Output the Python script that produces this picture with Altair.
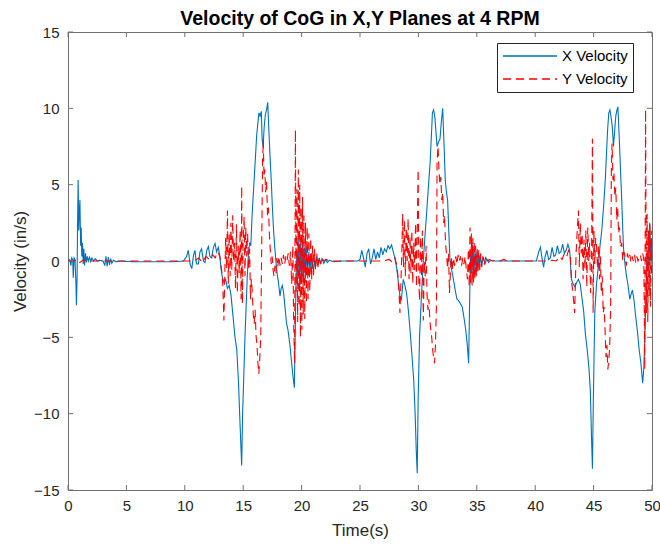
import altair as alt
import pandas as pd

# ---------------- data ----------------
# X Velocity, segment 1 (0-9 s)
xt1 = [0.00,0.15,0.25,0.32,0.40,0.45,0.52,0.60,0.68,0.72,0.78,0.82,0.87,0.92,0.97,1.02,1.08,1.13,1.18,1.24,
       1.30,1.36,1.42,1.50,1.58,1.66,1.75,1.85,1.95,2.05,2.20,2.35,2.50,2.70,3.00,3.15,3.25,3.35,3.45,3.55,
       3.65,3.75,3.90,4.10,4.50,5.00,6.00,7.00,8.00,9.00]
xv1 = [0.0,0.1,-0.3,0.2,0.1,-1.1,0.2,0.1,-1.5,-2.9,-1.0,2.5,5.3,2.0,3.2,4.0,1.0,2.2,0.3,1.2,
       -0.2,0.8,-0.3,0.5,-0.1,0.3,0.0,0.25,-0.05,0.2,0.0,0.15,0.0,0.05,0.0,-0.3,0.3,-0.35,0.25,-0.25,
       0.15,-0.15,0.05,-0.05,0.0,-0.03,-0.05,-0.05,-0.05,-0.05]
# X Velocity, segment 2 (10-24.5 s)
xt2 = [9.9,10.15,10.3,10.45,10.6,10.75,10.87,11.0,11.16,11.3,
       11.44,11.6,11.73,11.88,12.02,12.15,12.3,12.45,12.59,12.72,
       12.87,13.0,13.1,13.2,13.35,13.5,13.65,13.8,13.95,14.1,
       14.3,14.45,14.6,14.72,14.87,14.95,15.05,15.15,15.25,15.35,
       15.45,15.55,15.65,15.75,15.85,15.95,16.05,16.15,16.25,16.35,
       16.45,16.55,16.62,16.7,16.8,16.9,17.0,17.1,17.2,17.3,
       17.4,17.5,17.6,17.7,17.8,17.9,18.0,18.15,18.25,18.35,
       18.45,18.55,18.7,18.85,19.0,19.15,19.3,19.38,19.45,19.52,
       19.6,19.68,19.76,19.84,19.92,20.0,20.08,20.16,20.25,20.34,
       20.43,20.52,20.62,20.72,20.82,20.92,21.03,21.14,21.26,21.38,
       21.5,21.62,21.75,21.9,22.05,22.2,22.4,22.7,23.5,24.5]
xv2 = [0.0,0.3,0.7,-0.2,-0.5,0.4,0.7,-0.2,-0.2,0.6,
       0.8,0.0,-0.1,0.7,0.95,0.3,0.2,0.9,1.15,0.6,
       0.9,0.3,-0.5,-1.0,-1.4,-1.2,-1.8,-1.6,-2.2,-3.4,
       -5.0,-5.8,-8.0,-10.5,-13.4,-10.0,-7.5,-5.0,-3.0,-1.0,
       0.5,1.2,1.0,2.8,4.2,5.5,6.8,8.2,9.0,9.7,
       9.5,9.8,8.0,7.5,8.8,9.6,9.9,10.4,8.5,6.8,
       5.3,3.5,2.0,0.9,0.0,-0.8,-1.3,-2.3,-1.8,-1.6,
       -2.0,-2.8,-4.0,-4.6,-5.5,-6.7,-7.8,-8.3,-5.0,-1.5,
       0.8,-1.2,1.6,-1.8,1.2,-1.5,1.4,-1.3,0.9,-1.1,
       0.8,-0.9,0.6,-0.7,0.5,-0.5,0.4,-0.4,0.3,-0.3,
       0.2,-0.2,0.15,-0.15,0.1,-0.1,0.05,-0.05,0.0,0.0]
# X Velocity, segment 3 (25-39.5 s)
xt3 = [24.8,25.0,25.15,25.3,25.45,25.6,25.75,25.9,26.05,26.2,
       26.35,26.5,26.65,26.8,26.95,27.1,27.25,27.4,27.55,27.7,
       27.85,28.0,28.15,28.3,28.42,28.55,28.7,28.85,29.0,29.15,
       29.3,29.45,29.6,29.72,29.82,29.9,29.98,30.1,30.25,30.4,
       30.55,30.7,30.85,31.0,31.1,31.2,31.3,31.4,31.5,31.6,
       31.72,31.85,31.95,32.08,32.2,32.3,32.4,32.5,32.6,32.7,
       32.85,33.0,33.15,33.3,33.45,33.6,33.75,33.9,34.05,34.2,
       34.3,34.38,34.45,34.52,34.6,34.68,34.76,34.84,34.92,35.0,
       35.1,35.2,35.3,35.42,35.55,35.7,35.85,36.0,36.2,36.5,
       37.5,38.5,39.5]
xv3 = [0.0,0.1,0.7,0.2,-0.4,0.5,0.8,-0.2,0.2,0.8,
       0.1,0.6,0.2,0.9,0.4,0.8,0.6,1.0,0.8,1.05,
       0.6,0.1,-0.5,-1.5,-2.3,-2.5,-1.2,-1.6,-2.2,-3.3,
       -4.7,-6.2,-7.8,-10.0,-12.5,-13.9,-9.0,-4.9,-2.5,-0.2,
       1.5,3.1,4.8,6.4,8.0,9.7,9.9,9.5,8.5,7.5,
       7.8,8.0,9.0,10.0,7.5,5.3,4.5,4.0,2.0,0.1,
       -0.6,-1.2,-1.9,-2.5,-2.6,-2.8,-3.0,-3.7,-4.5,-5.6,
       -6.7,-3.0,0.5,-0.8,1.2,-1.0,0.9,-0.9,0.7,-0.7,
       0.5,-0.5,0.4,-0.35,0.25,-0.2,0.15,-0.1,0.05,0.0,
       0.0,0.0,0.0]
# X Velocity, segment 4 (40-50 s)
xt4 = [39.9,40.1,40.3,40.45,40.6,40.72,40.85,41.0,41.15,41.3,
       41.45,41.6,41.75,41.9,42.05,42.2,42.35,42.5,42.65,42.8,
       42.95,43.1,43.25,43.4,43.55,43.7,43.85,44.0,44.15,44.3,
       44.45,44.6,44.72,44.82,44.9,44.98,45.1,45.25,45.4,45.55,
       45.7,45.85,46.0,46.1,46.2,46.3,46.4,46.5,46.6,46.7,
       46.8,46.9,47.0,47.08,47.2,47.3,47.4,47.5,47.58,47.7,
       47.8,47.95,48.1,48.2,48.32,48.45,48.6,48.75,48.9,49.05,
       49.2,49.3,49.4,49.5,49.6,49.7,49.8,49.88,49.95,50.0]
xv4 = [0.0,0.0,0.6,0.9,0.1,-0.4,0.3,0.7,0.1,0.2,
       0.9,0.3,0.4,1.0,0.5,0.6,1.1,0.5,0.7,1.1,
       0.7,-1.2,-1.5,-1.7,-1.4,-1.2,-1.5,-2.4,-3.3,-4.8,
       -5.8,-7.0,-8.5,-11.5,-13.6,-9.0,-3.4,-1.5,-0.4,1.0,
       2.0,3.5,5.3,7.0,8.6,9.7,9.9,9.4,8.8,7.5,
       8.5,9.5,9.9,10.1,8.0,6.0,4.2,2.0,0.6,-0.3,
       -0.9,-1.6,-2.5,-2.2,-1.9,-2.5,-3.6,-4.6,-5.8,-6.7,
       -8.0,-7.0,-4.7,-1.5,0.5,-0.5,2.5,0.0,1.5,-0.5]

# Y Velocity, segment 1 (0-27 s)
yt1 = [0.0,0.5,0.8,1.0,1.3,2.0,4.0,6.0,8.0,10.0,
       10.8,11.2,11.5,11.8,12.1,12.4,12.6,12.8,13.0,13.15,
       13.25,13.35,13.42,13.5,13.58,13.65,13.72,13.8,13.88,13.95,
       14.02,14.1,14.18,14.26,14.34,14.42,14.5,14.58,14.66,14.74,
       14.82,14.87,14.93,15.0,15.08,15.15,15.22,15.3,15.38,15.46,
       15.55,15.62,15.7,15.78,15.86,15.94,16.02,16.1,16.18,16.26,
       16.34,16.42,16.5,16.58,16.66,16.72,16.78,16.85,16.92,17.0,
       17.08,17.16,17.24,17.32,17.4,17.48,17.56,17.64,17.72,17.8,
       17.88,17.96,18.05,18.15,18.25,18.35,18.45,18.55,18.65,18.75,
       18.85,18.95,19.05,19.15,19.25,19.32,19.4,19.47,19.53,19.6,
       19.66,19.72,19.78,19.84,19.9,19.96,20.02,20.08,20.14,20.2,
       20.27,20.34,20.41,20.48,20.55,20.62,20.7,20.78,20.86,20.94,
       21.02,21.1,21.2,21.3,21.4,21.5,21.62,21.75,21.9,22.1,
       22.4,23.0,24.0,25.0,26.0,27.0]
yv1 = [0.0,0.0,0.1,-0.1,0.05,0.0,0.0,0.0,0.0,0.0,
       0.0,0.2,-0.1,0.3,0.1,0.4,0.2,0.6,0.3,-0.6,
       -1.5,-3.9,-1.0,1.5,-0.5,3.3,-1.5,1.8,-1.0,2.5,
       -0.6,3.0,0.0,1.2,-1.8,2.4,-2.1,1.0,-0.8,2.0,
       -2.5,4.9,-2.8,1.5,2.9,-1.0,2.2,0.3,1.8,-0.5,
       0.8,-2.5,-1.2,-2.1,-3.5,-4.1,-3.2,-4.9,-5.5,-6.7,
       -7.4,-6.3,-5.0,0.7,6.6,7.9,5.5,6.0,4.5,5.2,
       3.0,3.5,1.8,0.7,-0.2,0.3,-0.6,-1.0,-0.3,-0.8,
       0.2,-0.4,0.3,-0.3,0.2,-0.2,0.4,-0.2,0.3,0.0,
       0.5,-0.3,0.6,-1.5,1.0,-4.0,-6.7,8.6,-2.0,4.7,
       -4.0,6.0,-3.0,5.0,-5.0,3.5,-4.5,4.2,-3.5,3.0,
       -3.8,2.5,-2.8,2.2,-2.5,1.8,-2.0,1.5,-1.2,1.0,
       -1.0,0.8,-0.6,0.5,-0.4,0.3,-0.2,0.2,0.0,0.1,
       0.0,0.0,0.0,0.0,0.0,0.0]
# Y Velocity, segment 2 (27.5-41.5 s)
yt2 = [27.5,27.8,28.0,28.15,28.25,28.35,28.42,28.5,28.58,28.65,
       28.72,28.8,28.88,28.96,29.04,29.12,29.2,29.28,29.36,29.44,
       29.52,29.6,29.68,29.76,29.84,29.92,29.98,30.04,30.1,30.18,
       30.26,30.34,30.42,30.5,30.58,30.66,30.74,30.82,30.9,30.98,
       31.06,31.14,31.22,31.3,31.38,31.46,31.54,31.6,31.68,31.76,
       31.84,31.92,32.0,32.08,32.16,32.24,32.32,32.4,32.5,32.58,
       32.66,32.74,32.82,32.9,33.0,33.1,33.2,33.3,33.4,33.5,
       33.6,33.7,33.8,33.9,34.0,34.1,34.2,34.28,34.35,34.42,
       34.48,34.54,34.6,34.66,34.72,34.78,34.84,34.9,34.96,35.03,
       35.1,35.17,35.25,35.33,35.42,35.52,35.62,35.75,35.9,36.05,
       36.3,36.6,37.0,37.3,37.6,38.0,39.0,40.0,41.0,41.5]
yv2 = [0.1,-0.1,0.2,-0.3,-1.0,-2.2,-3.4,-1.5,0.5,3.1,
       -0.4,2.7,-1.0,2.2,0.0,2.8,-1.2,1.6,-0.8,2.0,
       -1.5,1.2,-0.6,2.5,-1.7,3.0,6.0,-1.5,-2.6,1.6,
       -1.0,2.0,-3.9,0.0,-1.0,1.0,-2.2,-3.2,-2.5,-3.9,
       -4.5,-5.0,-5.8,-6.3,-6.7,-5.5,-3.0,6.6,7.5,6.0,
       5.0,5.5,4.0,4.5,2.5,3.0,1.2,0.5,-0.5,0.5,
       -2.1,-0.8,0.3,-0.6,0.2,-0.3,0.3,-0.2,0.4,0.0,
       0.3,-0.3,0.2,-0.2,0.3,-0.5,-1.2,0.8,-1.7,2.2,
       -1.5,1.8,-1.6,1.5,-1.4,1.3,-1.2,1.0,-1.0,0.9,
       -0.8,0.7,-0.6,0.5,-0.4,0.3,-0.25,0.2,-0.1,0.1,
       0.0,0.05,0.0,0.1,0.0,0.0,0.0,0.0,0.0,0.05]
# Y Velocity, segment 3 (41.8-50 s)
yt3 = [41.8,42.1,42.3,42.5,42.7,42.85,43.0,43.1,43.25,43.38,
       43.5,43.6,43.7,43.78,43.86,43.94,44.02,44.1,44.18,44.26,
       44.34,44.42,44.5,44.58,44.66,44.74,44.82,44.9,44.96,45.03,
       45.1,45.18,45.26,45.34,45.42,45.5,45.58,45.66,45.74,45.82,
       45.9,45.98,46.06,46.14,46.22,46.3,46.38,46.46,46.52,46.58,
       46.66,46.74,46.82,46.9,46.98,47.06,47.14,47.22,47.3,47.4,
       47.5,47.6,47.7,47.8,47.9,48.0,48.1,48.2,48.3,48.4,
       48.5,48.6,48.7,48.8,48.9,49.0,49.1,49.2,49.3,49.38,
       49.45,49.52,49.58,49.64,49.7,49.76,49.82,49.88,49.94,50.0]
yv3 = [0.0,0.3,0.1,0.5,0.3,0.7,0.5,-1.2,-2.3,-3.4,
       0.5,2.0,3.3,-0.4,2.5,0.5,1.8,-1.2,1.4,-0.5,
       2.0,-1.7,2.2,0.0,1.2,-2.1,-0.4,8.0,-3.4,2.0,
       -0.2,1.5,0.9,-0.5,1.0,-1.2,0.3,-2.1,-1.0,-3.4,
       -3.0,-4.5,-6.3,-5.5,-7.1,-6.5,-5.6,-3.0,6.0,7.7,
       5.3,5.8,4.2,4.8,2.7,3.5,1.8,2.2,0.9,1.2,
       0.07,0.6,0.3,-0.3,0.5,0.1,0.4,-0.1,0.3,0.0,
       0.4,-0.1,0.3,0.0,0.2,0.4,0.0,0.5,0.1,-7.1,
       9.9,-3.4,3.1,-4.0,2.0,-2.3,2.4,-3.0,2.0,-1.2]

series_names = ["X Velocity", "Y Velocity"]
series_colors = ["#0072BD", "#FF0000"]
series_dash = [[1, 0], [8, 5]]
x_ticks = [0, 5, 10, 15, 20, 25, 30, 35, 40, 45, 50]
y_ticks = [-15, -10, -5, 0, 5, 10, 15]
title_text = "Velocity of CoG in X,Y Planes at 4 RPM"

# ---------------- build table ----------------
x_time = xt1 + xt2 + xt3 + xt4
x_vel = xv1 + xv2 + xv3 + xv4
y_time = yt1 + yt2 + yt3
y_vel = yv1 + yv2 + yv3
dfx = pd.DataFrame({"t": x_time, "v": x_vel})
dfx["series"] = series_names[0]
dfy = pd.DataFrame({"t": y_time, "v": y_vel})
dfy["series"] = series_names[1]
df = pd.concat([dfx, dfy], ignore_index=True)

FONT = "Liberation Sans"
AX = "#707070"
W, H = 584, 458

x_scale = alt.Scale(domain=[0, 50], nice=False, zero=False)
y_scale = alt.Scale(domain=[-15, 15], nice=False, zero=False)
x_axis = alt.Axis(title="Time(s)", values=x_ticks, tickSize=0, domain=False, grid=False,
                  labelPadding=8, titlePadding=9, labelFontSize=15, titleFontSize=17,
                  labelFlush=False)
y_axis = alt.Axis(title="Velocity (in/s)", values=y_ticks, tickSize=0, domain=False, grid=False,
                  labelPadding=9, titlePadding=4, labelFontSize=15, titleFontSize=17,
                  labelFlush=False)

leg = alt.Legend(
    title=None, orient="none", legendX=429, legendY=11,
    symbolType="stroke", symbolSize=2916, symbolStrokeWidth=1.3,
    clipHeight=16, rowPadding=7, padding=5, labelOffset=4,
    labelFontSize=15, labelFont=FONT, labelColor="#000000",
    strokeColor="#262626", fillColor="white", labelLimit=0,
)

lines = alt.Chart(df).mark_line(strokeWidth=1.1, clip=True).encode(
    x=alt.X("t:Q", scale=x_scale, axis=x_axis),
    y=alt.Y("v:Q", scale=y_scale, axis=y_axis),
    color=alt.Color("series:N", scale=alt.Scale(domain=series_names, range=series_colors), legend=leg),
    strokeDash=alt.StrokeDash("series:N", scale=alt.Scale(domain=series_names, range=series_dash), legend=leg),
)

xt_df = pd.DataFrame({"t": x_ticks})
yt_df = pd.DataFrame({"v": y_ticks})
top_ticks = alt.Chart(xt_df).mark_rule(color=AX, strokeWidth=1).encode(
    x=alt.X("t:Q", scale=x_scale, axis=x_axis), y=alt.value(0), y2=alt.value(5))
bottom_ticks = alt.Chart(xt_df).mark_rule(color=AX, strokeWidth=1).encode(
    x=alt.X("t:Q", scale=x_scale, axis=x_axis), y=alt.value(H - 5), y2=alt.value(H))
left_ticks = alt.Chart(yt_df).mark_rule(color=AX, strokeWidth=1).encode(
    y=alt.Y("v:Q", scale=y_scale, axis=y_axis), x=alt.value(0), x2=alt.value(5))
right_ticks = alt.Chart(yt_df).mark_rule(color=AX, strokeWidth=1).encode(
    y=alt.Y("v:Q", scale=y_scale, axis=y_axis), x=alt.value(W - 5), x2=alt.value(W))

chart = alt.layer(lines, top_ticks, bottom_ticks, left_ticks, right_ticks).properties(
    width=W, height=H,
    title=alt.Title(title_text, fontSize=19.5, fontWeight="bold", font=FONT, color="#000000",
                    offset=-4, anchor="middle"),
    padding={"left": 68, "top": 32, "right": 8, "bottom": 60},
    autosize=alt.AutoSizeParams(type="none"),
).configure_view(
    stroke=AX, strokeWidth=1
).configure_axis(
    labelFont=FONT, titleFont=FONT, labelColor="#262626", titleColor="#262626",
    titleFontWeight="normal"
)

chart.save("out.html", embed_options={"renderer": "svg", "actions": False})
